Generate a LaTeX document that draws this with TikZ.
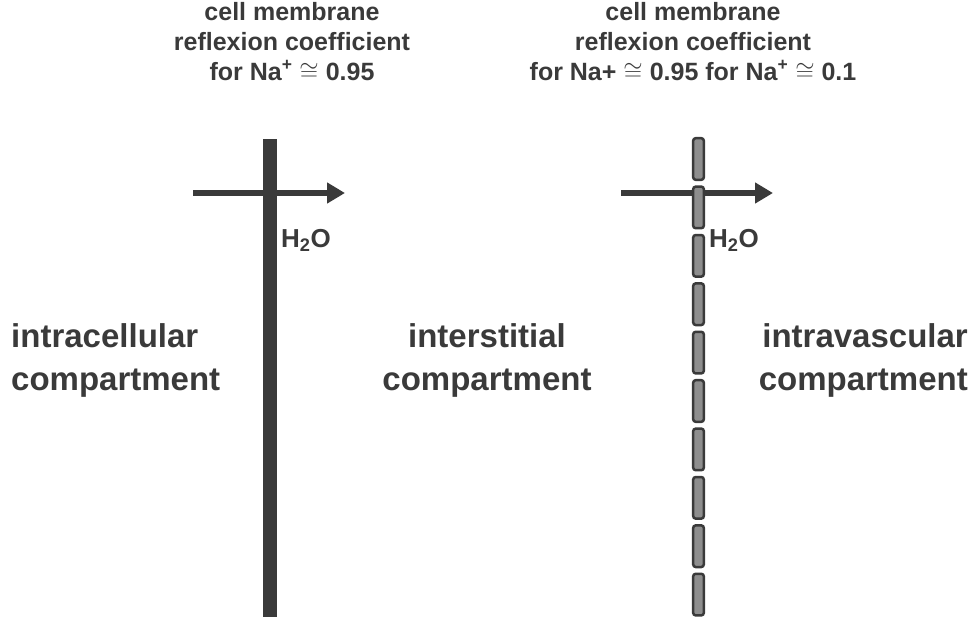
\documentclass[tikz,border=0pt]{standalone}
\usepackage{fontspec}
\setmainfont{Liberation Sans}
\usetikzlibrary{arrows.meta}
\definecolor{ink}{HTML}{3A3A3A}
\definecolor{pore}{HTML}{8E8E8E}
\begin{document}
\begin{tikzpicture}[x=1pt,y=-1pt,
  title/.style={font=\bfseries\fontsize{25}{30}\selectfont, text=ink, align=center, anchor=base, inner sep=0pt},
  comp/.style={font=\bfseries\fontsize{33}{43}\selectfont, text=ink, inner sep=0pt},
  water/.style={font=\bfseries\fontsize{26}{30}\selectfont, text=ink, inner sep=0pt, anchor=base west},
  flow/.style={draw=ink, line width=6pt, -{Triangle[length=18pt,width=20pt]}},
  seg/.style={draw=ink, fill=pore, line width=2.5pt, rounded corners=2.5pt},
  wall/.style={fill=ink}]
\useasboundingbox (0,0) rectangle (970,619);
% titles
\node[title] (t1) at (292,80) {cell membrane\\reflexion coefficient\\for Na\textsuperscript{+} $\cong$ 0.95};
\node[title] (t2) at (693,80) {cell membrane\\reflexion coefficient\\for Na+ $\cong$ 0.95 for Na\textsuperscript{+} $\cong$ 0.1};
% cell membrane (solid)
\fill[wall] (263,139) rectangle (277,617);
% arrows
\coordinate (la) at (193,193);
\coordinate (lb) at (345,193);
\coordinate (ra) at (621,193);
\coordinate (rb) at (773,193);
\draw[flow] (la) -- (lb);
\draw[flow] (ra) -- (rb);
% capillary wall (segmented)
\foreach \i in {0,...,9}
  \draw[seg] (693.2,{138.2+48.4*\i}) rectangle ++(10.6,41.6);
% water labels
\node[water] (w1) at (281,247) {H\textsubscript{2}O};
\node[water] (w2) at (709,247) {H\textsubscript{2}O};
% compartments
\node[comp, anchor=base west, align=left] (c1) at (11,390) {intracellular\\compartment};
\node[comp, anchor=base, align=center] (c2) at (487,390) {interstitial\\compartment};
\node[comp, anchor=base east, align=right] (c3) at (968,390) {intravascular\\compartment};
\end{tikzpicture}
\end{document}
